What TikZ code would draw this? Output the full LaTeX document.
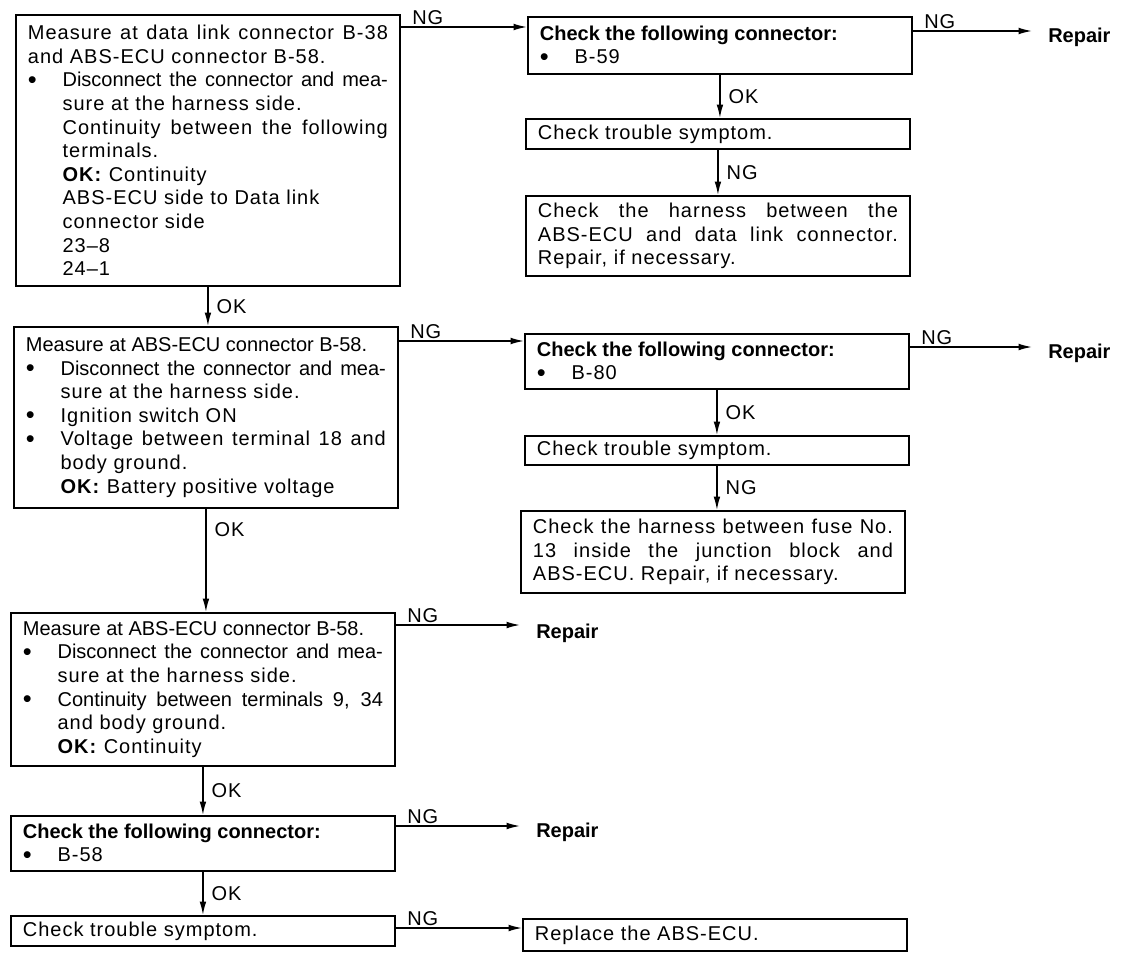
\documentclass[tikz,border=0pt]{standalone}
\usepackage{fontspec}
\setmainfont{Liberation Sans}[LetterSpace=5]
\newfontfamily\tightfont{Liberation Sans}
\usetikzlibrary{arrows.meta,calc,positioning}

\setlength{\parindent}{0pt}
\tolerance=10000
\hbadness=10000
\hfuzz=20pt
\newcommand{\bitem}{\par\hangindent=26pt\hangafter=1\noindent
    \makebox[26pt][l]{\raisebox{-1pt}{\fontsize{19}{17.7}\selectfont\textbullet}}}
\newcommand{\chead}{{\tightfont\bfseries Check the following connector:}}

\begin{document}
\begin{tikzpicture}[
    x=0.75pt,
    y=-0.75pt,
    every node/.style={inner sep=2pt, font=\fontsize{15}{17.7}\selectfont},
    box/.style={draw, line width=1.4pt, anchor=north west, inner xsep=9pt, inner ysep=2pt,
        text width=270pt, align=justify},
    flow/.style={line width=1.1pt, -{Latex[length=10pt,width=5pt]}},
    lbl/.style={inner sep=1pt},
    rep/.style={anchor=west, inner xsep=12pt, font=\fontsize{15}{17.7}\selectfont\tightfont\bfseries}
]

\useasboundingbox (0,0) rectangle (1136,960);


% Left column
\node[box, minimum height=203.25pt] (meas1) at (15,14) {Measure at data link connector B-38\linebreak
    and ABS-ECU connector B-58.
    \bitem {\tightfont Disconnect the connector and mea-}\linebreak sure at the harness side.\newline
    Continuity between the following\linebreak terminals.\newline
    \textbf{OK:} Continuity\newline
    ABS-ECU side to Data link\newline
    connector side\newline
    23--8\newline
    24--1\par};
\node[box, minimum height=135.75pt] (meas2) at (13,326) {{\tightfont Measure at ABS-ECU connector B-58.}
    \bitem {\tightfont Disconnect the connector and mea-}\linebreak sure at the harness side.
    \bitem Ignition switch ON
    \bitem Voltage between terminal 18 and\linebreak body ground.\newline
    \textbf{OK:} Battery positive voltage\par};
\node[box, minimum height=114.75pt] (meas3) at (10,612) {{\tightfont Measure at ABS-ECU connector B-58.}
    \bitem {\tightfont Disconnect the connector and mea-}\linebreak sure at the harness side.
    \bitem {\tightfont Continuity between terminals 9, 34}\linebreak and body ground.\newline
    \textbf{OK:} Continuity\par};
\node[box, minimum height=41.25pt] (conn3) at (10,815) {\chead
    \bitem B-58\par};
\node[box, minimum height=22.5pt] (symp3) at (10,915) {Check trouble symptom.};


% Upper branch
\node[box, minimum height=42.75pt] (conn1) at (527,16) {\chead
    \bitem B-59\par};
\node[box, minimum height=22.5pt] (symp1) at (525,118) {Check trouble symptom.};
\node[box, minimum height=60pt] (harn1) at (525,195) {Check the harness between the\linebreak
    ABS-ECU and data link connector.\linebreak Repair, if necessary.};


% Middle branch
\node[box, minimum height=41.25pt] (conn2) at (524,333) {\chead
    \bitem B-80\par};
\node[box, minimum height=21.75pt] (symp2) at (524,435) {Check trouble symptom.};
\node[box, minimum height=61.5pt] (harn2) at (520,510) {Check the harness between fuse No.\linebreak
    13 inside the junction block and\linebreak ABS-ECU. Repair, if necessary.};


% Ends
\node[rep] (rep1) at (1032,37) {Repair};
\node[rep] (rep2) at (1032,353) {Repair};
\node[rep] (rep3) at (520,633) {Repair};
\node[rep] (rep4) at (520,832) {Repair};
\node[box, minimum height=24pt] (repl) at (522,918) {Replace the ABS-ECU.};


% OK paths
\draw[flow] (meas1.south) -- (meas1.south |- meas2.north) node[lbl, midway, right, xshift=5pt] (ok1) {OK};
\draw[flow] (meas2.south) -- (meas2.south |- meas3.north) node[lbl, pos=0.2, right, xshift=5pt] (ok2) {OK};
\draw[flow] (meas3.south) -- (meas3.south |- conn3.north) node[lbl, midway, right, xshift=5pt] (ok3) {OK};
\draw[flow] (conn3.south) -- (conn3.south |- symp3.north) node[lbl, midway, right, xshift=5pt] (ok4) {OK};

\draw[flow] (conn1.south) -- (conn1.south |- symp1.north) node[lbl, midway, right, xshift=5pt] (ok5) {OK};
\draw[flow] (symp1.south) -- (symp1.south |- harn1.north) node[lbl, midway, right, xshift=5pt] (ng5) {NG};
\draw[flow] (conn2.south) -- (conn2.south |- symp2.north) node[lbl, midway, right, xshift=5pt] (ok6) {OK};
\draw[flow] (symp2.south) -- (symp2.south |- harn2.north) node[lbl, midway, right, xshift=5pt] (ng6) {NG};


% NG paths
\draw[flow] ($(meas1.north east)+(0,13)$) coordinate (p1) -- (p1 -| conn1.west)
    node[lbl, pos=0, anchor=south west, xshift=7pt] (ng1) {NG};
\draw[flow] ($(conn1.north east)+(0,15)$) coordinate (p2) -- (p2 -| rep1.west)
    node[lbl, pos=0, anchor=south west, xshift=7pt] (ng2) {NG};
\draw[flow] ($(meas2.north east)+(0,15)$) coordinate (p3) -- (p3 -| conn2.west)
    node[lbl, pos=0, anchor=south west, xshift=7pt] (ng3) {NG};
\draw[flow] ($(conn2.north east)+(0,14)$) coordinate (p4) -- (p4 -| rep2.west)
    node[lbl, pos=0, anchor=south west, xshift=7pt] (ng4) {NG};
\draw[flow] ($(meas3.north east)+(0,13)$) coordinate (p7) -- (p7 -| rep3.west)
    node[lbl, pos=0, anchor=south west, xshift=7pt] (ng7) {NG};
\draw[flow] ($(conn3.north east)+(0,11)$) coordinate (p8) -- (p8 -| rep4.west)
    node[lbl, pos=0, anchor=south west, xshift=7pt] (ng8) {NG};
\draw[flow] ($(symp3.north east)+(0,13)$) coordinate (p9) -- (p9 -| repl.west)
    node[lbl, pos=0, anchor=south west, xshift=7pt] (ng9) {NG};


\end{tikzpicture}
\end{document}
